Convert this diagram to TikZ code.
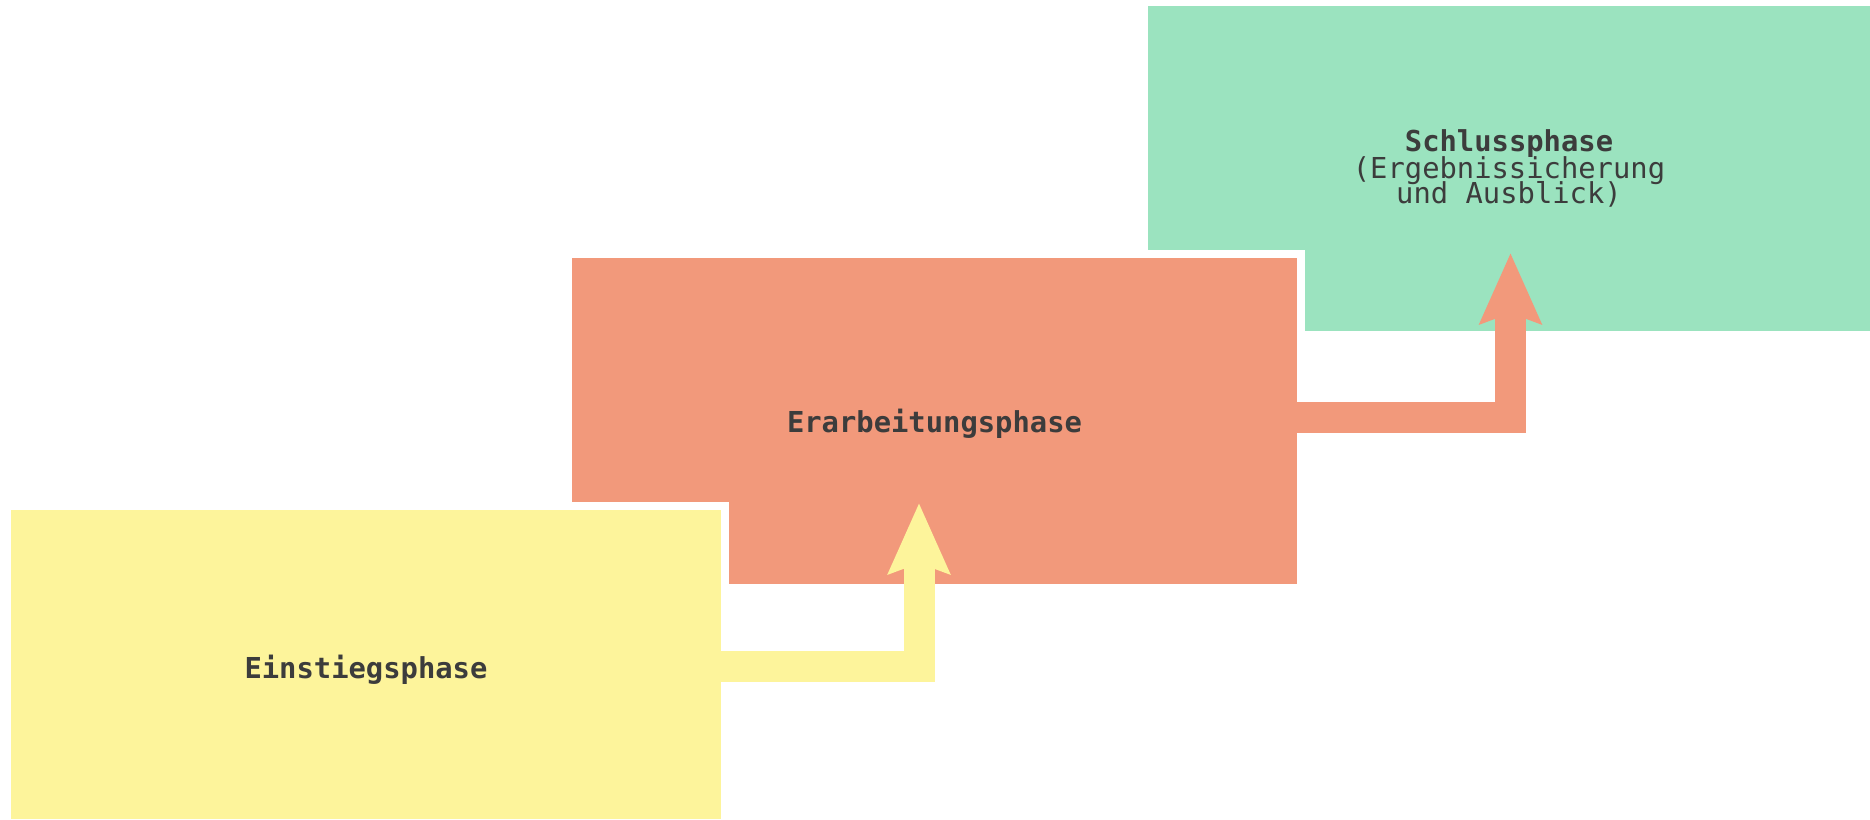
\documentclass[tikz,border=0pt]{standalone}
\usepackage{fontspec}
\setmonofont{DejaVu Sans Mono}
\usetikzlibrary{arrows.meta}
\setlength{\lineskiplimit}{-10pt}

\definecolor{phaseyellow}{HTML}{FDF49B}
\definecolor{phasered}{HTML}{F2997B}
\definecolor{phasegreen}{HTML}{9BE3BF}
\definecolor{phasetext}{HTML}{3C3C3C}

\tikzset{
    phase/.style={draw=white, line width=0.8mm, inner sep=0pt, align=center,
        text=phasetext, font=\ttfamily\fontsize{8.2}{7.1}\selectfont},
    flow/.style={line width=3.1mm, -{Stealth[length=7.0mm, width=6.0mm, inset=1mm]}}
}

\begin{document}
\begin{tikzpicture}
        \useasboundingbox (0,0) rectangle (18.70,8.19);
        
        \node [phase, fill=phasegreen, minimum width=7.30cm, minimum height=3.33cm] (schluss) at (15.09, 6.505)
            {\textbf{Schlussphase}\\[0.8pt](Ergebnissicherung\\und Ausblick)};
        
        \node [phase, fill=phasered, minimum width=7.33cm, minimum height=3.34cm, text height=2.8mm] (erarbeitung) at (9.345, 3.98)
            {\textbf{Erarbeitungsphase}};
        \coordinate (tipB) at (15.105, 5.66);
        \draw [flow, phasered] ([xshift=-2mm, yshift=0.4mm]erarbeitung.east) -| (tipB);
        
        \node [phase, fill=phaseyellow, minimum width=7.18cm, minimum height=3.17cm, text height=3.4mm] (einstieg) at (3.66, 1.545)
            {\textbf{Einstiegsphase}};
        \coordinate (tipA) at (9.19, 3.16);
        \draw [flow, phaseyellow] ([xshift=-2mm, yshift=-0.15mm]einstieg.east) -| (tipA);
    \end{tikzpicture}
\end{document}
